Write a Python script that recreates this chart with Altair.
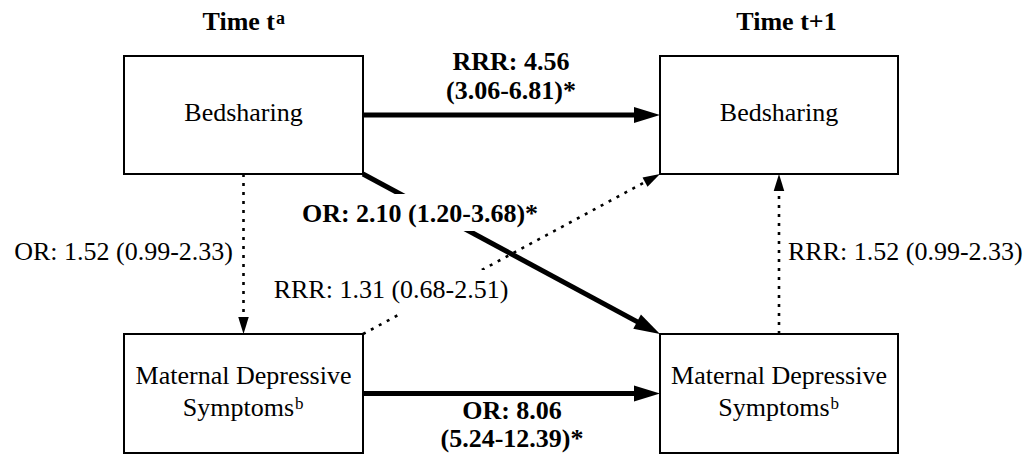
import math
import altair as alt
import pandas as pd

# ---------------- data ----------------
# boxes (nodes) of the path diagram
node_ids = ["bed_t", "bed_t1", "mds_t", "mds_t1"]
node_left = [124, 660, 124, 660]
node_right = [363, 898, 363, 898]
node_top = [56, 56, 334, 334]
node_bottom = [174, 174, 453, 453]
node_line1 = ["Bedsharing", "Bedsharing", "Maternal Depressive", "Maternal Depressive"]
node_line2 = ["", "", "Symptoms", "Symptoms"]
node_sup = ["", "", "b", "b"]

# column headings
heading_text = ["Time t", "Time t+1"]
heading_sup = ["a", ""]
heading_x = [244, 786.5]

# paths (edges)
edge_from = ["bed_t", "bed_t", "mds_t", "bed_t", "mds_t1", "mds_t"]
edge_from_anchor = ["right", "bottom-right", "top-right", "bottom", "top", "right"]
edge_to = ["bed_t1", "mds_t1", "bed_t1", "mds_t", "bed_t1", "mds_t1"]
edge_to_anchor = ["left", "top-left", "bottom-left", "top", "bottom", "left"]
edge_style = ["solid", "solid", "dotted", "dotted", "dotted", "solid"]

# path labels (estimates)
label_text = ["RRR: 4.56", "(3.06-6.81)*", "OR: 2.10 (1.20-3.68)*",
              "RRR: 1.31 (0.68-2.51)", "OR: 1.52 (0.99-2.33)",
              "RRR: 1.52 (0.99-2.33)", "OR: 8.06", "(5.24-12.39)*"]
label_x = [511, 511, 420, 391, 233, 788, 512, 512]
label_y = [70, 99, 222, 298, 260, 260, 419, 447]
label_align = ["center", "center", "center", "center", "right", "left", "center", "center"]
label_bold = [True, True, True, False, False, False, True, True]

# white knock-out areas behind labels that sit on a path
knock_x1 = [298, 270]
knock_x2 = [542, 512]
knock_y1 = [194, 270]
knock_y2 = [231, 314]

FONT = "Liberation Serif"
FS = 26

# ---------------- build tables ----------------
nodes = pd.DataFrame({"id": node_ids, "l": node_left, "r": node_right,
                      "t": node_top, "b": node_bottom,
                      "line1": node_line1, "line2": node_line2, "sup": node_sup})
nodes["cx"] = (nodes["l"] + nodes["r"]) / 2
nodes["cy"] = (nodes["t"] + nodes["b"]) / 2
nd = nodes.set_index("id")


def anchor(n, a):
    row = nd.loc[n]
    return {
        "right": (row.r, row.cy), "left": (row.l, row.cy),
        "top": (row.cx, row.t), "bottom": (row.cx, row.b),
        "top-left": (row.l, row.t), "top-right": (row.r, row.t),
        "bottom-left": (row.l, row.b), "bottom-right": (row.r, row.b),
    }[a]


head_len = {"solid": 26, "dotted": 17}
rows = []
for f, fa, t, ta, s in zip(edge_from, edge_from_anchor, edge_to, edge_to_anchor, edge_style):
    x1, y1 = anchor(f, fa)
    x2, y2 = anchor(t, ta)
    dx, dy = x2 - x1, y2 - y1
    L = math.hypot(dx, dy)
    ux, uy = dx / L, dy / L
    back = head_len[s] * 0.5
    ang = math.degrees(math.atan2(dy, dx)) % 360
    rows.append({"x": x1, "y": y1, "x2": x2 - ux * back, "y2": y2 - uy * back,
                 "tx": x2, "ty": y2, "angle": ang, "size": head_len[s] ** 2,
                 "style": s})
edges = pd.DataFrame(rows)

labels = pd.DataFrame({"text": label_text, "x": label_x, "y": label_y,
                       "align": label_align, "bold": label_bold})
knock = pd.DataFrame({"x": knock_x1, "x2": knock_x2, "y": knock_y1, "y2": knock_y2})

heads = pd.DataFrame({"text": heading_text, "sup": heading_sup, "cx": heading_x})

# ---------------- scales ----------------
W, H = 1016, 450
xs = alt.Scale(domain=[8, 8 + W], nice=False, zero=False)
ys = alt.Scale(domain=[8, 8 + H], nice=False, zero=False, reverse=True)


def X(f):
    return alt.X(f"{f}:Q", scale=xs, axis=None)


def Y(f):
    return alt.Y(f"{f}:Q", scale=ys, axis=None)


layers = []

# boxes
layers.append(alt.Chart(nodes).mark_rect(fill="white", stroke="black", strokeWidth=2).encode(
    x=X("l"), x2="r", y=Y("t"), y2="b"))

# lines
layers.append(alt.Chart(edges[edges["style"] == "solid"]).mark_rule(
    color="black", strokeWidth=5).encode(x=X("x"), y=Y("y"), x2="x2", y2="y2"))
layers.append(alt.Chart(edges[edges["style"] == "dotted"]).mark_rule(
    color="black", strokeWidth=2.6, strokeDash=[3, 6]).encode(x=X("x"), y=Y("y"), x2="x2", y2="y2"))

# arrowheads (tip at origin)
layers.append(alt.Chart(edges).mark_point(
    shape="M0,0 L-2,-0.62 L-2,0.62 Z", filled=True, fill="black", stroke=None, opacity=1).encode(
    x=X("tx"), y=Y("ty"),
    angle=alt.Angle("angle:Q", scale=None),
    size=alt.Size("size:Q", scale=None)))

# knock-outs behind labels
layers.append(alt.Chart(knock).mark_rect(fill="white").encode(
    x=X("x"), x2="x2", y=Y("y"), y2="y2"))

# path labels
for align in ["center", "left", "right"]:
    for bold in [True, False]:
        sub = labels[(labels["align"] == align) & (labels["bold"] == bold)]
        if len(sub) == 0:
            continue
        layers.append(alt.Chart(sub).mark_text(
            font=FONT, fontSize=FS, fontWeight="bold" if bold else "normal",
            align=align, baseline="alphabetic", color="black").encode(
            x=X("x"), y=Y("y"), text="text:N"))

# node texts
nodes_l1 = nodes.assign(y=nodes["t"] + nodes.apply(lambda r: 65 if r.line2 == "" else 50, axis=1))
layers.append(alt.Chart(nodes_l1).mark_text(
    font=FONT, fontSize=FS, align="center", baseline="alphabetic", color="black").encode(
    x=X("cx"), y=Y("y"), text="line1:N"))
n2 = nodes[nodes["line2"] != ""].copy()
n2["xr"] = n2["cx"] + 50.5
n2["xs"] = n2["cx"] + 51.5
n2["y"] = n2["t"] + 82
n2["ysup"] = n2["t"] + 75
layers.append(alt.Chart(n2).mark_text(
    font=FONT, fontSize=FS, align="right", baseline="alphabetic", color="black").encode(
    x=X("xr"), y=Y("y"), text="line2:N"))
layers.append(alt.Chart(n2).mark_text(
    font=FONT, fontSize=17, align="left", baseline="alphabetic", color="black").encode(
    x=X("xs"), y=Y("ysup"), text="sup:N"))

# headings
h1 = heads[heads["sup"] != ""].copy()
h1["xr"] = h1["cx"] + 31
h1["xs"] = h1["cx"] + 32
h1["y"] = 30
h1["ys"] = 24
h2 = heads[heads["sup"] == ""].copy()
h2["y"] = 30
layers.append(alt.Chart(h1).mark_text(
    font=FONT, fontSize=FS, fontWeight="bold", align="right", baseline="alphabetic", color="black").encode(
    x=X("xr"), y=Y("y"), text="text:N"))
layers.append(alt.Chart(h1).mark_text(
    font=FONT, fontSize=18, fontWeight="bold", align="left", baseline="alphabetic", color="black").encode(
    x=X("xs"), y=Y("ys"), text="sup:N"))
layers.append(alt.Chart(h2).mark_text(
    font=FONT, fontSize=FS, fontWeight="bold", align="center", baseline="alphabetic", color="black").encode(
    x=X("cx"), y=Y("y"), text="text:N"))

chart = alt.layer(*layers).properties(
    width=W, height=H, padding=0, background="white"
).configure_view(stroke=None)

chart.save("out.html", embed_options={"renderer": "svg", "actions": False})
